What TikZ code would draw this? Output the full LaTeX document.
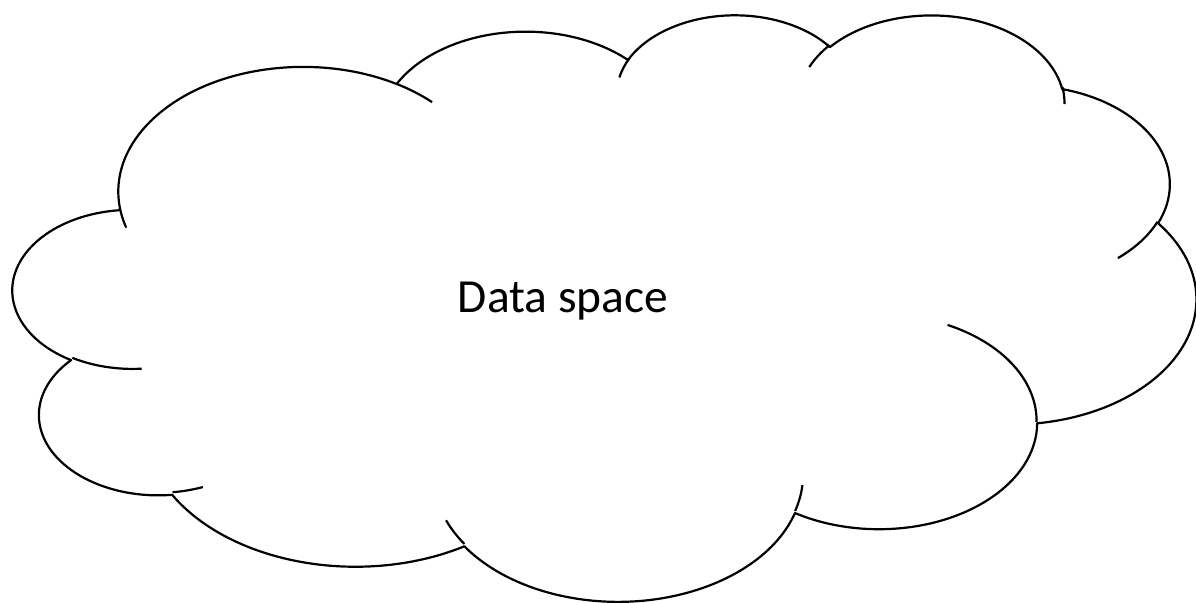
\documentclass[tikz,border=0pt]{standalone}
\usepackage{fontspec}
\setmainfont{Carlito}
\usepackage{tikz}

\tikzset{
  cloudline/.style={draw=black, line width=1.1pt, line join=round},
  %% elliptic lobe: x radius, y radius, start and sweep angle of the point on the ellipse
  lobe/.style n args={4}{insert path={arc[x radius=#1, y radius=#2,
      start angle={atan2(#1*sin(#3)/#2, cos(#3))},
      delta angle={mod(atan2(#1*sin(#3+#4)/#2, cos(#3+#4)) - atan2(#1*sin(#3)/#2, cos(#3)) + 720, 360)}]}},
}

\begin{document}
\begin{tikzpicture}[x=1.368805pt, y=-0.678588pt]
    \useasboundingbox[fill=white] (-4.833,-9.873) rectangle (432.04,434.43);

    %% cloud outline
    \draw[cloudline, fill=white] (39.00,143.70)
      [lobe={67.53}{91.90}{-190.487483}{123.780533}]
      [lobe={53.33}{72.67}{-144.102383}{89.945233}]
      [lobe={43.65}{59.45}{-145.807917}{99.723017}]
      [lobe={48.57}{65.95}{-130.986067}{117.241733}]
      [lobe={53.33}{72.73}{-78.708883}{109.026917}]
      [lobe={67.75}{92.20}{-46.26725}{130.269}]
      [lobe={57.85}{78.67}{0.625017}{114.033333}]
      [lobe={67.52}{92.15}{22.4516}{115.17255}]
      [lobe={77.20}{105.43}{66.242633}{75.711017}]
      [lobe={43.60}{59.18}{-274.942083}{146.735567}]
      [lobe={43.45}{59.45}{-246.8285}{152.51885}] -- cycle;

    %% inner folds between the lobes
    \foreach \mx/\my/\rw/\rh/\st/\sw in {
        46.93/261.77/43.45/59.45/86.742/26.4295,
        69.28/348.99/43.60/59.18/73.610467/11.447467,
        164.78/390.90/67.52/92.15/137.62415/14.0811,
        288.27/347.51/67.52/92.15/6.453267/15.99835,
        341.29/229.54/57.85/78.67/-70.29235/70.91737,
        417.98/153.54/53.33/72.73/30.318033/27.7515,
        383.24/54.26/48.57/65.95/-13.744333/14.8589,
        290.78/39.52/48.57/65.95/-149.18145/18.195367,
        221.41/47.20/43.65/59.45/-163.494267/17.68635,
        140.00/51.92/67.53/91.90/-66.70695/12.31935,
        41.27/157.89/67.53/91.90/157.65435/11.852117}
      \draw[cloudline] (\mx,\my) [lobe={\rw}{\rh}{\st}{\sw}];

    \node[font=\fontsize{23.75}{28}\selectfont, anchor=base] (label) at (200.82,220.75) {Data space};
\end{tikzpicture}
\end{document}
